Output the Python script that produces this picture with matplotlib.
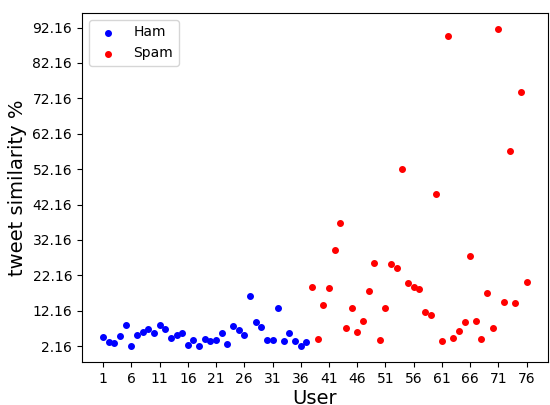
import matplotlib
matplotlib.use("Agg")
import matplotlib.pyplot as plt
import numpy as np

# Ham users 1..37, spam users 38..76
ham_users = list(range(1, 38))
ham_sim = [4.78, 3.37, 3.09, 4.98, 8.28, 2.16, 5.26, 6.31, 7.15, 5.91,
           8.09, 7.15, 4.50, 5.26, 5.91, 2.64, 4.05, 2.16, 4.33, 3.77,
           3.85, 5.91, 2.72, 7.89, 6.67, 5.26, 16.27, 8.93, 7.60, 4.05,
           4.05, 13.08, 3.57, 5.91, 3.66, 2.16, 3.37]

spam_users = list(range(38, 77))
spam_sim = [19.00, 4.14, 13.81, 18.72, 29.45, 37.06, 7.44, 12.97, 6.03, 9.21,
            17.88, 25.78, 3.85, 12.88, 25.30, 24.37, 52.30, 20.02, 19.00, 18.44,
            11.75, 10.91, 45.25, 3.57, 89.90, 4.61, 6.48, 8.93, 27.64, 9.30,
            4.33, 17.12, 7.44, 91.80, 14.58, 57.18, 14.38, 73.90, 20.30]

xticks = list(range(1, 77, 5))
yticks = [2.16 + 10 * i for i in range(10)]

fig, ax = plt.subplots(figsize=(5.5, 4.05), dpi=100)
fig.subplots_adjust(left=0.149, right=0.996, top=0.968, bottom=0.106)

ax.scatter(ham_users, ham_sim, color="blue", s=16, label="Ham")
ax.scatter(spam_users, spam_sim, color="red", s=16, label="Spam")

ax.set_xticks(xticks)
ax.set_yticks(yticks)
ax.set_yticklabels([f"{v:.2f}" for v in yticks])
ax.set_xlabel("User", fontsize=14, labelpad=2)
ax.set_ylabel("tweet similarity %", fontsize=14)
ax.legend(loc="upper left")

fig.savefig("out.png", dpi=100)
